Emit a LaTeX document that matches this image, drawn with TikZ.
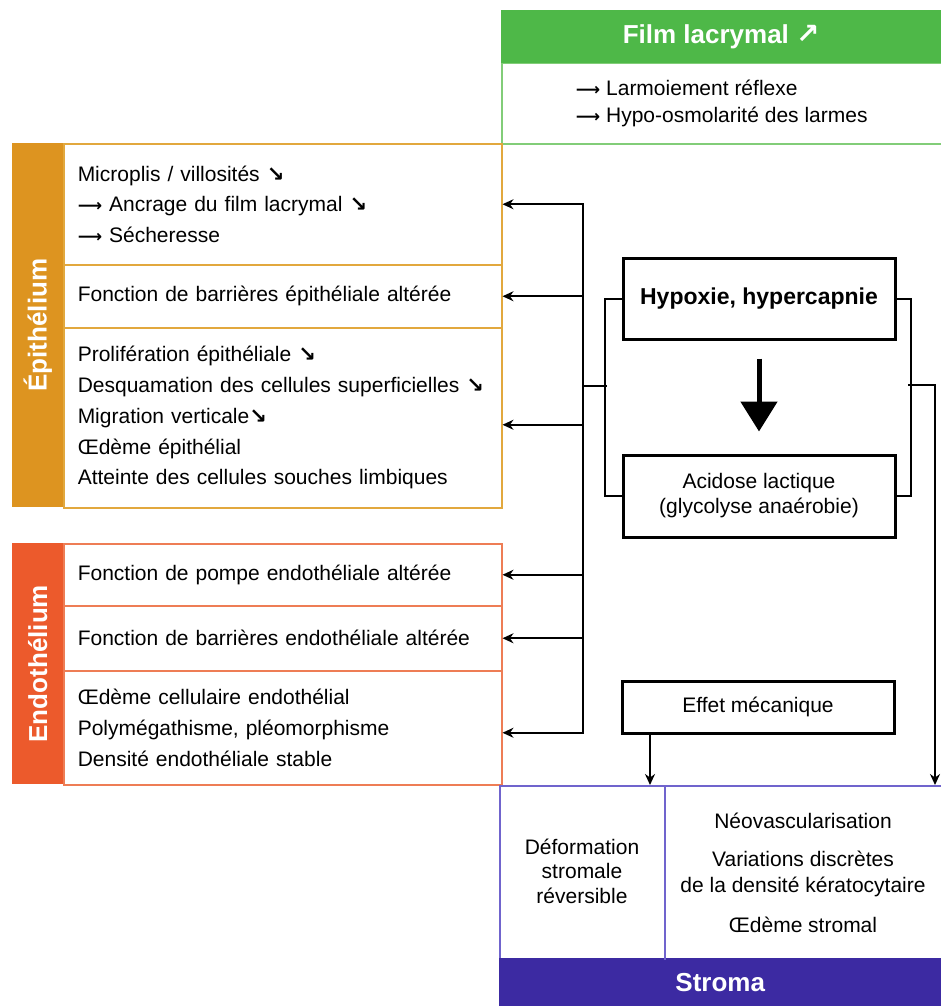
\documentclass[tikz,border=0pt]{standalone}
\usepackage{fontspec}
\setmainfont{Liberation Sans}
\newfontfamily\arrowfont{DejaVu Sans}
\usetikzlibrary{arrows.meta,positioning}

\definecolor{filmgreen}{RGB}{78,184,72}
\definecolor{filmline}{RGB}{130,205,120}
\definecolor{epigold}{RGB}{221,148,32}
\definecolor{epiline}{RGB}{226,168,62}
\definecolor{endored}{RGB}{236,90,44}
\definecolor{endoline}{RGB}{238,125,85}
\definecolor{stromablue}{RGB}{60,42,162}
\definecolor{stromaline}{RGB}{112,100,205}

\newcommand\bodyfont{\fontsize{21}{30.7}\selectfont}
\newcommand\headfont{\fontsize{26}{30}\selectfont\bfseries}
\newcommand\dnarr{{\arrowfont\bfseries ↘}}
\newcommand\uparr{{\arrowfont\bfseries\fontsize{28}{30}\selectfont ↗}}
\newcommand\toarr{{\arrowfont\bfseries\fontsize{17}{20}\selectfont ⟶}}

\tikzset{
  cell/.style={draw=#1, line width=1.5pt, anchor=north west, minimum width=438pt,
    text width=410pt, inner xsep=14pt, inner ysep=0pt, align=left, font=\bodyfont},
  strip/.style={fill=#1, anchor=north west, minimum width=51pt, inner sep=0pt},
  side/.style={rotate=90, text=white, font=\headfont},
  head/.style={fill=#1, anchor=north west, minimum width=440pt, text=white, font=\headfont},
  causebox/.style={draw, line width=3pt, minimum width=272pt, align=center, font=\bodyfont},
  arr/.style={-{Stealth[length=11pt,width=10pt]}, line width=2pt, line cap=rect},
  link/.style={line width=2pt, line cap=rect}
}

\begin{document}
\begin{tikzpicture}[x=1pt,y=-1pt]
  \useasboundingbox (0,0) rectangle (941,1006);

  % film lacrymal
  \node[head=filmgreen, minimum height=53pt] (filmhead) at (501,10) {Film lacrymal \uparr};
  \node[draw=filmline, line width=1.5pt, anchor=north west, minimum width=440pt,
    minimum height=80pt, align=left, font=\fontsize{21}{27}\selectfont] (filmbody) at (501,63)
    {\toarr\ Larmoiement réflexe\\\toarr\ Hypo-osmolarité des larmes};

  % epithelium
  \node[strip=epigold, minimum height=364pt] (epistrip) at (12,143) {};
  \node[side] at (epistrip) {Épithélium};
  \node[cell=epiline, minimum height=121pt] (epi1) at (63,143)
    {Microplis / villosités \dnarr\\\toarr\ Ancrage du film lacrymal \dnarr\\\toarr\ Sécheresse};
  \node[cell=epiline, minimum height=63pt] (epi2) at (63,264)
    {Fonction de barrières épithéliale altérée};
  \node[cell=epiline, minimum height=180pt] (epi3) at (63,327)
    {Prolifération épithéliale \dnarr\\Desquamation des cellules superficielles \dnarr\\
     Migration verticale\dnarr\\Œdème épithélial\\Atteinte des cellules souches limbiques};

  % endothelium
  \node[strip=endored, minimum height=241pt] (endostrip) at (12,543) {};
  \node[side] at (endostrip) {Endothélium};
  \node[cell=endoline, minimum height=62pt] (endo1) at (63,543)
    {Fonction de pompe endothéliale altérée};
  \node[cell=endoline, minimum height=65pt] (endo2) at (63,605)
    {Fonction de barrières endothéliale altérée};
  \node[cell=endoline, minimum height=114pt] (endo3) at (63,670)
    {Œdème cellulaire endothélial\\Polymégathisme, pléomorphisme\\Densité endothéliale stable};

  % causes
  \node[causebox, minimum height=81pt, font=\fontsize{23}{26}\selectfont\bfseries] (hyp) at (759,298.5)
    {Hypoxie, hypercapnie};
  \node[causebox, minimum height=82pt, font=\fontsize{21}{25}\selectfont] (acid) at (759,496)
    {Acidose lactique\\(glycolyse anaérobie)};
  \node[causebox, minimum height=52pt] (meca) at (758,707) {Effet mécanique};
  \draw[line width=5pt, -{Triangle[length=30pt,width=36pt]}]
    ([yshift=-18pt]hyp.south) -- ([yshift=22pt]acid.north);

  % stroma
  \node[draw=stromaline, line width=1.5pt, anchor=north west, minimum width=442pt,
    minimum height=173pt] (stroma) at (499,785) {};
  \node[head=stromablue, minimum width=442pt, minimum height=48pt] (stromahead) at (499,958) {Stroma};
  \draw[stromaline, line width=1.5pt]
    ([xshift=166pt]stroma.north west) -- ([xshift=166pt]stroma.south west);
  \node[align=center, font=\fontsize{21}{24.5}\selectfont] (deform) at (582,871)
    {Déformation\\stromale\\réversible};
  \node[align=center, font=\fontsize{21}{26}\selectfont] (neo) at (803,873)
    {Néovascularisation\\[12pt]Variations discrètes\\de la densité kératocytaire\\[14pt]Œdème stromal};

  % connectors
  \coordinate (bus) at (583,0);
  \coordinate (epi3in) at ([yshift=-7pt]epi3.east);
  \coordinate (endo3in) at ([yshift=-5pt]endo3.east);
  \draw[arr] (bus |- endo3in) -- (bus |- epi1.east) -- (epi1.east);
  \foreach \c in {epi2,epi3in,endo1,endo2,endo3in}
    \draw[arr] (bus |- \c) -- (\c);

  \draw[link] (hyp.west) -- ++(-17,0) |- (acid.west);
  \draw[link] (hyp.east) -- ++(14,0) |- (acid.east);
  \coordinate (lmid) at (606,386);
  \coordinate (rmid) at (909,385);
  \coordinate (rdrop) at (935,385);
  \draw[link] (lmid) -- (bus |- lmid);
  \draw[arr] (rmid) -- (rdrop) -- (rdrop |- stroma.north);

  \coordinate (mecadrop) at (650,0);
  \draw[arr] (mecadrop |- meca.south) -- (mecadrop |- stroma.north);
\end{tikzpicture}
\end{document}
